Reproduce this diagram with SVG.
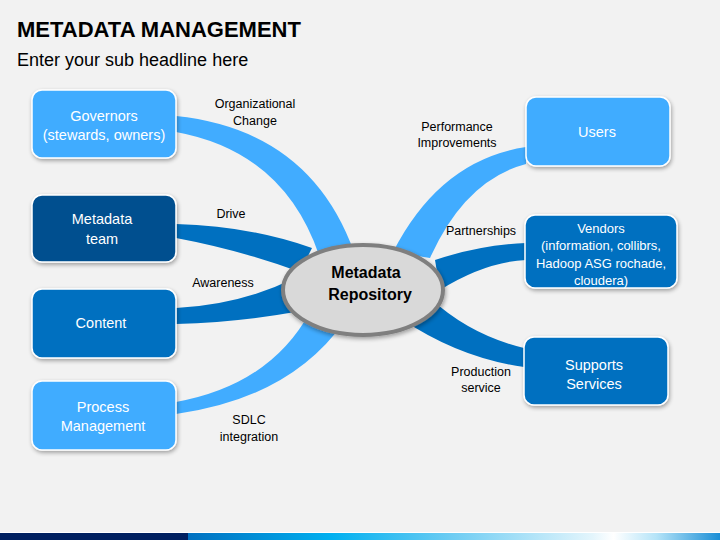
<svg xmlns="http://www.w3.org/2000/svg" width="720" height="540" viewBox="0 0 720 540">
<defs>
<style>
.title{font-family:"Liberation Sans",Arial,sans-serif;font-weight:bold;font-size:22px;fill:#000}
.sub{font-family:"Liberation Sans",Arial,sans-serif;font-size:18px;fill:#000}
.lbl{font-family:"Liberation Sans",Arial,sans-serif;font-size:12.5px;fill:#000;text-anchor:middle}
.nt{font-family:"Liberation Sans",Arial,sans-serif;font-size:14.5px;fill:#fff;text-anchor:middle}
.nts{font-family:"Liberation Sans",Arial,sans-serif;font-size:13px;fill:#fff;text-anchor:middle}
.ct{font-family:"Liberation Sans",Arial,sans-serif;font-size:16px;font-weight:bold;fill:#000;text-anchor:middle}
.box{stroke:#fff;stroke-width:1.5;filter:url(#sh)}
.light{fill:#41acff}
.mid{fill:#0070c0}
.dark{fill:#00508f}
</style>
<filter id="sh" x="-20%" y="-20%" width="140%" height="150%">
<feGaussianBlur in="SourceAlpha" stdDeviation="2"/>
<feOffset dx="1" dy="2" result="b"/>
<feComponentTransfer><feFuncA type="linear" slope="0.35"/></feComponentTransfer>
<feMerge><feMergeNode/><feMergeNode in="SourceGraphic"/></feMerge>
</filter>
<linearGradient id="bar" x1="188" y1="0" x2="720" y2="0" gradientUnits="userSpaceOnUse">
<stop offset="0" stop-color="#0070c0"/>
<stop offset="0.27" stop-color="#00b0f0"/>
<stop offset="0.5" stop-color="#6fcdf3"/>
<stop offset="0.76" stop-color="#e3f5fc"/>
<stop offset="0.8" stop-color="#ffffff"/>
<stop offset="0.88" stop-color="#b5e4f8"/>
<stop offset="1" stop-color="#1a8ed6"/>
</linearGradient>
</defs>
<rect x="0" y="0" width="720" height="540" fill="#f2f2f2"/>
<text class="title" x="17" y="37">METADATA MANAGEMENT</text>
<text class="sub" x="17" y="66">Enter your sub headline here</text>

<g id="connectors">
<path class="light" d="M176,116 Q310,130 354,252 L320,258 Q285,152 176,132 Z"/>
<path class="mid" d="M176,224 Q250,226 312,248 L300,272 Q240,250 176,238 Z"/>
<path class="mid" d="M176,308 Q240,305 295,278 L295,312 Q240,322 176,324 Z"/>
<path class="light" d="M176,402 Q270,385 310,312 L344,322 Q290,398 176,414 Z"/>
<path class="light" d="M526,147 Q440,160 393,252 L430,258 Q465,180 526,164 Z"/>
<path class="mid" d="M435,260 Q480,245 526,243 L526,260 Q485,262 440,290 Z"/>
<path class="mid" d="M430,298 Q470,335 524,348 L524,367 Q460,358 403,320 Z"/>
<text class="lbl" x="255" y="108">Organizational</text>
<text class="lbl" x="255" y="125">Change</text>
<text class="lbl" x="231" y="218">Drive</text>
<text class="lbl" x="223" y="287">Awareness</text>
<text class="lbl" x="249" y="424">SDLC</text>
<text class="lbl" x="249" y="441">integration</text>
<text class="lbl" x="457" y="131">Performance</text>
<text class="lbl" x="457" y="147">Improvements</text>
<text class="lbl" x="481" y="235">Partnerships</text>
<text class="lbl" x="481" y="376">Production</text>
<text class="lbl" x="481" y="392">service</text>
</g>

<g id="repository">
<ellipse cx="363" cy="290" rx="80" ry="45" fill="#d9d9d9" stroke="#7f7f7f" stroke-width="4" filter="url(#sh)"/>
<text class="ct" x="366" y="278">Metadata</text>
<text class="ct" x="370" y="300">Repository</text>
</g>

<g id="governors">
<rect class="box light" x="32" y="90" width="144" height="68" rx="10"/>
<text class="nt" x="104" y="121">Governors</text>
<text class="nt" x="104" y="140">(stewards, owners)</text>
</g>
<g id="metadata-team">
<rect class="box dark" x="32" y="195" width="144" height="67" rx="10"/>
<text class="nt" x="102" y="224">Metadata</text>
<text class="nt" x="102" y="244">team</text>
</g>
<g id="content">
<rect class="box mid" x="32" y="289" width="144" height="69" rx="10"/>
<text class="nt" x="101" y="328">Content</text>
</g>
<g id="process-management">
<rect class="box light" x="32" y="381" width="144" height="69" rx="10"/>
<text class="nt" x="103" y="412">Process</text>
<text class="nt" x="103" y="431">Management</text>
</g>
<g id="users">
<rect class="box light" x="526" y="97" width="144" height="69" rx="10"/>
<text class="nt" x="597" y="137">Users</text>
</g>
<g id="vendors">
<rect class="box mid" x="525" y="215" width="152" height="73" rx="10"/>
<text class="nts" x="601" y="233">Vendors</text>
<text class="nts" x="601" y="250">(information, collibrs,</text>
<text class="nts" x="601" y="268">Hadoop ASG rochade,</text>
<text class="nts" x="601" y="285">cloudera)</text>
</g>
<g id="supports-services">
<rect class="box mid" x="524" y="337" width="144" height="68" rx="10"/>
<text class="nt" x="594" y="370">Supports</text>
<text class="nt" x="594" y="389">Services</text>
</g>

<rect x="0" y="532" width="720" height="1" fill="#ffffff"/>
<rect x="0" y="533" width="188" height="7" fill="#002060"/>
<rect x="188" y="533" width="532" height="7" fill="url(#bar)"/>
</svg>
